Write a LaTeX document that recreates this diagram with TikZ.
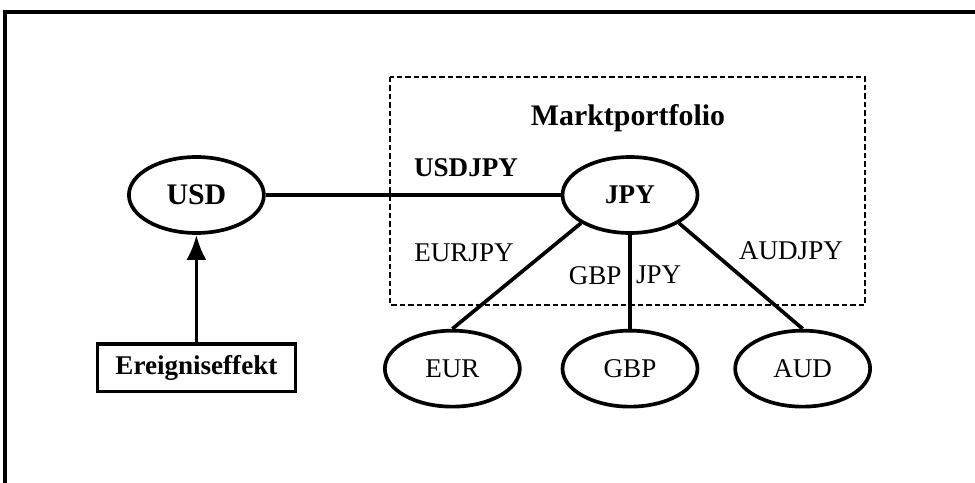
\documentclass[tikz,border=0pt]{standalone}
\usepackage{fontspec}
\setmainfont{Liberation Serif}
\usetikzlibrary{positioning,arrows.meta,shapes.geometric}
\tikzset{mycurrency/.style={
  shape=ellipse,
  draw=black,
  line width=2.1pt,
  minimum width=2.7cm,
  minimum height=1.52cm,
  inner sep=0pt,
  font=\fontsize{15.4}{18}\selectfont,
  }
}
\tikzset{myevent/.style={
  shape=rectangle,
  draw=black,
  line width=2.1pt,
  minimum width=3.96cm,
  minimum height=0.96cm,
  font=\fontsize{15.4}{18}\selectfont\bfseries,
  }
}
\tikzset{mylabel/.style={
  inner sep=1pt,
  font=\fontsize{15.4}{18}\selectfont,
  }
}
\tikzset{mylink/.style={line width=2.1pt}}
\tikzset{myportfolio/.style={draw=black, line width=0.9pt, dash pattern=on 0.11cm off 0.06cm}}

\begin{document}
\begin{tikzpicture}[x=0.02cm,y=-0.02cm]
  \useasboundingbox (0,0) rectangle (975,483);
  % frame
  \draw[line width=2.1pt] (975,12) -- (5,12) -- (5,483);
  % market portfolio
  \draw[myportfolio] (390,77) rectangle (865,305);
  \node[mylabel, font=\fontsize{17}{20}\selectfont\bfseries] (title) at (628,118) {Marktportfolio};

  \node[mycurrency, font=\fontsize{15.4}{18}\selectfont\bfseries] (jpy) at (630,195) {JPY};
  \node[mycurrency, font=\fontsize{17}{20}\selectfont\bfseries, left=5.9cm of jpy] (usd) {USD};
  \node[mycurrency, below=1.88cm of jpy] (gbp) {GBP};
  \node[mycurrency, left=0.78cm of gbp] (eur) {EUR};
  \node[mycurrency, right=0.68cm of gbp] (aud) {AUD};
  \node[myevent, below=2.14cm of usd] (event) {Ereigniseffekt};

  \node[mylabel, font=\fontsize{15.4}{18}\selectfont\bfseries] (usdjpy) at (466,168) {USDJPY};
  \node[mylabel] (eurjpy) at (464,253) {EURJPY};
  \node[mylabel] (audjpy) at (791,251) {AUDJPY};

  \draw[mylink] (usd) -- (jpy);
  \draw[mylink] (jpy.south west) -- (eur.north);
  \draw[mylink] (jpy.south) -- node[pos=0.43, left=0.1cm, mylabel] (gbplabel) {GBP}
    node[pos=0.43, right=0.05cm, mylabel] (jpylabel) {JPY} (gbp.north);
  \draw[mylink] (jpy.south east) -- (aud.north);
  \draw[mylink, -{Latex[length=0.5cm,width=0.4cm]}] (event) -- (usd);
\end{tikzpicture}
\end{document}
